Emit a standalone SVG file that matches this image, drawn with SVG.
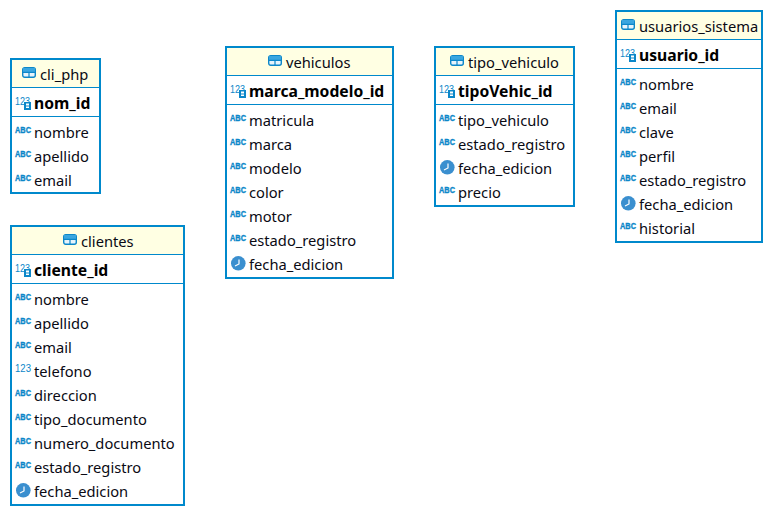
<svg xmlns="http://www.w3.org/2000/svg" width="773" height="516" viewBox="0 0 773 516">
<style>
text{font-family:"Noto Sans","Open Sans","Liberation Sans",sans-serif;font-size:14.7px;fill:#0a0a14}
.b{fill:#fff;stroke:#0089cc;stroke-width:2}
.h{fill:#ffffe3}
.l{stroke:#0089cc;stroke-width:1.2;fill:none}
.k{font-weight:700;font-size:15.7px;fill:#000}
.i{font-size:8.5px;font-weight:700;fill:#0c87c9;stroke:#0c87c9;stroke-width:.35px;font-family:"Liberation Sans",sans-serif}
.n{font-size:11px;fill:#0c87c9;font-family:"Liberation Sans",sans-serif}
</style>
<defs>
<g id="tbl"><rect x=".7" y=".7" width="12.600" height="9.600" rx="2" fill="#e6f4fc" stroke="#0c87c9" stroke-width="1.400"/><rect x="1" y="1" width="12" height="4" fill="#3aa6e0"/><path d="M7 5V10M1 5.300H13" stroke="#0c87c9" stroke-width="1.200"/></g>
<g id="abc"><text class="i" x="0" y="0" textLength="16" lengthAdjust="spacingAndGlyphs">ABC</text></g>
<g id="num"><text class="n" x="0" y="0" textLength="16" lengthAdjust="spacingAndGlyphs">123</text></g>
<g id="pk"><text class="n" x="0" y="7" textLength="15" lengthAdjust="spacingAndGlyphs">123</text><rect x="9" y="4" width="7" height="8" fill="#0c87c9"/><rect x="11" y="5.500" width="3" height="2" fill="#fff"/><rect x="11" y="8.500" width="3" height="1.500" fill="#fff"/></g>
<g id="clk"><circle cx="7.300" cy="7.300" r="7.300" fill="#3a8fcf"/><path d="M8 3.500V8L4 10" stroke="#fff" stroke-width="1.200" fill="none"/></g>
</defs>
<g id="connectors"/>
<g id="cli_php">
<rect class="b" x="11" y="59" width="89" height="134"/><rect class="h" x="12" y="60" width="87" height="27"/>
<path class="l" d="M12 87.500H99M12 116.500H99"/>
<use href="#tbl" x="22" y="67"/><text x="40" y="80">cli_php</text>
<use href="#pk" x="15" y="98"/><text class="k" x="34" y="109">nom_id</text>
<use href="#abc" x="15" y="133"/><text x="34" y="138">nombre</text>
<use href="#abc" x="15" y="157"/><text x="34" y="162">apellido</text>
<use href="#abc" x="15" y="181"/><text x="34" y="186">email</text>
</g>
<g id="clientes">
<rect class="b" x="11" y="226" width="173" height="279"/><rect class="h" x="12" y="227" width="171" height="27"/>
<path class="l" d="M12 254.500H183M12 283.500H183"/>
<use href="#tbl" x="63" y="234"/><text x="81" y="247">clientes</text>
<use href="#pk" x="15" y="265"/><text class="k" x="34" y="276">cliente_id</text>
<use href="#abc" x="15" y="300"/><text x="34" y="305">nombre</text>
<use href="#abc" x="15" y="324"/><text x="34" y="329">apellido</text>
<use href="#abc" x="15" y="348"/><text x="34" y="353">email</text>
<use href="#num" x="15" y="372"/><text x="34" y="377">telefono</text>
<use href="#abc" x="15" y="396"/><text x="34" y="401">direccion</text>
<use href="#abc" x="15" y="420"/><text x="34" y="425">tipo_documento</text>
<use href="#abc" x="15" y="444"/><text x="34" y="449">numero_documento</text>
<use href="#abc" x="15" y="468"/><text x="34" y="473">estado_registro</text>
<use href="#clk" x="16" y="483"/><text x="34" y="497">fecha_edicion</text>
</g>
<g id="vehiculos">
<rect class="b" x="226" y="47" width="167" height="231"/><rect class="h" x="227" y="48" width="165" height="27"/>
<path class="l" d="M227 75.500H392M227 104.500H392"/>
<use href="#tbl" x="268" y="55"/><text x="286" y="68">vehiculos</text>
<use href="#pk" x="230" y="86"/><text class="k" x="249" y="97">marca_modelo_id</text>
<use href="#abc" x="230" y="121"/><text x="249" y="126">matricula</text>
<use href="#abc" x="230" y="145"/><text x="249" y="150">marca</text>
<use href="#abc" x="230" y="169"/><text x="249" y="174">modelo</text>
<use href="#abc" x="230" y="193"/><text x="249" y="198">color</text>
<use href="#abc" x="230" y="217"/><text x="249" y="222">motor</text>
<use href="#abc" x="230" y="241"/><text x="249" y="246">estado_registro</text>
<use href="#clk" x="231" y="256"/><text x="249" y="270">fecha_edicion</text>
</g>
<g id="tipo_vehiculo">
<rect class="b" x="435" y="47" width="139" height="159"/><rect class="h" x="436" y="48" width="137" height="27"/>
<path class="l" d="M436 75.500H573M436 104.500H573"/>
<use href="#tbl" x="450" y="55"/><text x="468" y="68">tipo_vehiculo</text>
<use href="#pk" x="439" y="86"/><text class="k" x="458" y="97">tipoVehic_id</text>
<use href="#abc" x="439" y="121"/><text x="458" y="126">tipo_vehiculo</text>
<use href="#abc" x="439" y="145"/><text x="458" y="150">estado_registro</text>
<use href="#clk" x="440" y="160"/><text x="458" y="174">fecha_edicion</text>
<use href="#abc" x="439" y="193"/><text x="458" y="198">precio</text>
</g>
<g id="usuarios_sistema">
<rect class="b" x="616" y="11" width="146" height="231"/><rect class="h" x="617" y="12" width="144" height="27"/>
<path class="l" d="M617 39.500H761M617 68.500H761"/>
<use href="#tbl" x="621" y="19"/><text x="639" y="32">usuarios_sistema</text>
<use href="#pk" x="620" y="50"/><text class="k" x="639" y="61">usuario_id</text>
<use href="#abc" x="620" y="85"/><text x="639" y="90">nombre</text>
<use href="#abc" x="620" y="109"/><text x="639" y="114">email</text>
<use href="#abc" x="620" y="133"/><text x="639" y="138">clave</text>
<use href="#abc" x="620" y="157"/><text x="639" y="162">perfil</text>
<use href="#abc" x="620" y="181"/><text x="639" y="186">estado_registro</text>
<use href="#clk" x="621" y="196"/><text x="639" y="210">fecha_edicion</text>
<use href="#abc" x="620" y="229"/><text x="639" y="234">historial</text>
</g>
</svg>
